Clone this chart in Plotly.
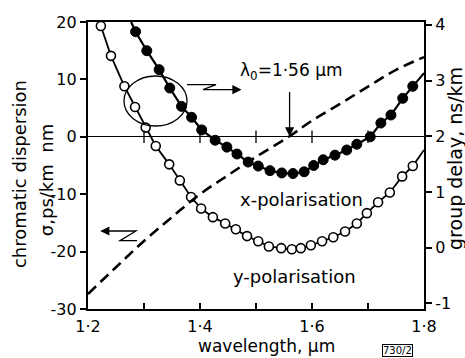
import plotly.graph_objects as go

# ---- data ----
# y-polarisation (open circles), chromatic dispersion ps/km nm
wl_ypol = [1.223, 1.241, 1.265, 1.284, 1.303, 1.321, 1.345, 1.364, 1.384, 1.402,
           1.423, 1.445, 1.464, 1.484, 1.504, 1.523, 1.545, 1.564, 1.580, 1.598,
           1.618, 1.638, 1.659, 1.680, 1.698, 1.718, 1.739, 1.761, 1.780]
sig_ypol = [19.3, 14.1, 8.8, 5.2, 1.6, -1.6, -4.8, -7.6, -10.5, -12.5,
            -14.0, -15.1, -16.1, -17.3, -18.2, -19.1, -19.4, -19.6, -19.4, -18.9,
            -18.2, -17.5, -16.5, -15.1, -13.3, -11.4, -9.7, -6.9, -5.1]
ypol_line_end = (1.80, -2.3)

# x-polarisation (filled circles)
wl_xpol = [1.285, 1.305, 1.327, 1.346, 1.367, 1.385, 1.403, 1.427, 1.448, 1.466,
           1.486, 1.504, 1.525, 1.546, 1.566, 1.586, 1.603, 1.620, 1.641, 1.662,
           1.680, 1.704, 1.723, 1.741, 1.762, 1.780]
sig_xpol = [18.3, 15.0, 11.7, 8.5, 5.3, 3.4, 1.2, -0.6, -1.8, -3.0,
            -4.4, -5.1, -5.9, -6.3, -6.4, -6.1, -5.0, -4.0, -3.2, -2.3,
            -1.3, 0.0, 2.4, 3.8, 6.7, 8.8]
xpol_line_start = (1.277, 20.0)
xpol_line_end = (1.80, 11.1)

# group delay (dashed, right axis), ns/km
wl_delay = [1.20, 1.25, 1.30, 1.35, 1.40, 1.45, 1.50, 1.56, 1.60, 1.65, 1.70, 1.75, 1.80]
delay = [-0.83, -0.35, 0.12, 0.55, 0.96, 1.30, 1.63, 2.00, 2.28, 2.58, 2.89, 3.19, 3.42]

lambda0 = 1.56
zero_ticks = [1.3, 1.4, 1.5, 1.6, 1.7]

x_tickvals = [1.2, 1.4, 1.6, 1.8]
x_ticktext = ["1·2", "1·4", "1·6", "1·8"]
x_minorvals = [1.3, 1.5, 1.7]
y_tickvals = [20, 10, 0, -10, -20, -30]
y_ticktext = ["20", "10", "0", "-10", "-20", "-30"]
y2_tickvals = [4, 3, 2, 1, 0, -1]
y2_ticktext = ["4", "3", "2", "1", "0", "-1"]

FONT = "DejaVu Sans"
BLACK = "black"

fig = go.Figure()

# lines
fig.add_trace(go.Scatter(
    x=wl_ypol + [ypol_line_end[0]], y=sig_ypol + [ypol_line_end[1]],
    mode="lines", line=dict(color=BLACK, width=1.8), showlegend=False,
    hoverinfo="skip", cliponaxis=False))
fig.add_trace(go.Scatter(
    x=[xpol_line_start[0]] + wl_xpol + [xpol_line_end[0]],
    y=[xpol_line_start[1]] + sig_xpol + [xpol_line_end[1]],
    mode="lines", line=dict(color=BLACK, width=2.2), showlegend=False,
    hoverinfo="skip", cliponaxis=False))
# markers
fig.add_trace(go.Scatter(
    x=wl_ypol, y=sig_ypol, mode="markers",
    marker=dict(symbol="circle", size=9, color="white",
                line=dict(color=BLACK, width=1.6)),
    showlegend=False, cliponaxis=False))
fig.add_trace(go.Scatter(
    x=wl_xpol, y=sig_xpol, mode="markers",
    marker=dict(symbol="circle", size=10, color=BLACK,
                line=dict(color=BLACK, width=1)),
    showlegend=False, cliponaxis=False))
# tick marks on the zero line
fig.add_trace(go.Scatter(
    x=zero_ticks, y=[0] * len(zero_ticks), mode="markers",
    marker=dict(symbol="line-ns", size=9, line=dict(color=BLACK, width=1.3)),
    showlegend=False, hoverinfo="skip"))
# group delay dashed
fig.add_trace(go.Scatter(
    x=wl_delay, y=delay, yaxis="y2", mode="lines",
    line=dict(color=BLACK, width=2.6, dash="11px,6px", shape="spline"),
    showlegend=False, hoverinfo="skip"))

LINE = dict(color=BLACK, width=1.3)
# ellipse around curves with zigzag pointers (decorations)
fig.add_shape(type="circle", xref="x", yref="y",
              x0=1.2643, x1=1.3768, y0=1.88, y1=10.59, line=LINE)
fig.add_shape(type="path", xref="x", yref="y",
              path="M 1.3768 9.08 L 1.4286 9.08 L 1.4054 8.21 L 1.4714 8.21", line=LINE)
fig.add_shape(type="path", xref="x", yref="y",
              path="M 1.4714 8.21 L 1.4589 8.82 L 1.4589 7.60 Z",
              line=LINE, fillcolor=BLACK)
fig.add_shape(type="path", xref="x", yref="y",
              path="M 1.2875 -18.10 L 1.2571 -18.10 L 1.2857 -16.41 L 1.2245 -16.41", line=LINE)
fig.add_shape(type="path", xref="x", yref="y",
              path="M 1.2245 -16.41 L 1.2370 -15.80 L 1.2370 -17.02 Z",
              line=LINE, fillcolor=BLACK)
# lambda0 arrow
fig.add_shape(type="line", xref="x", yref="y",
              x0=lambda0, x1=lambda0, y0=7.8, y1=0.6, line=LINE)
fig.add_shape(type="path", xref="x", yref="y",
              path="M 1.56 0.3 L 1.5537 1.55 L 1.5663 1.55 Z",
              line=LINE, fillcolor=BLACK)

TF = dict(family=FONT, size=18, color=BLACK)
C = dict(xanchor="center", yanchor="middle", showarrow=False)
annotations = [
    dict(x=1.5625, y=11.3, xref="x", yref="y", **C,
         text="λ<sub>0</sub>=1·56 µm", font=dict(family=FONT, size=17, color=BLACK)),
    dict(x=1.581, y=-10.9, xref="x", yref="y", **C, text="x-polarisation", font=TF),
    dict(x=1.568, y=-24.4, xref="x", yref="y", **C, text="y-polarisation", font=TF),
    # axis titles
    dict(x=0.53, y=-0.13, xref="paper", yref="paper", **C,
         text="wavelength, µm", font=dict(family=FONT, size=17, color=BLACK)),
    dict(x=-0.2054, y=0.47, xref="paper", yref="paper", **C, textangle=-90,
         text="chromatic dispersion", font=TF),
    dict(x=-0.125, y=0.449, xref="paper", yref="paper", **C, textangle=-90,
         text="σ,ps/km  nm", font=TF),
    dict(x=1.092, y=0.526, xref="paper", yref="paper", **C, textangle=-90,
         text="group delay, ns/km", font=dict(family=FONT, size=19, color=BLACK)),
    dict(x=0.9226, y=-0.145, xref="paper", yref="paper", **C,
         text="730/2", bordercolor=BLACK, borderwidth=1, borderpad=0,
         font=dict(family=FONT, size=10, color=BLACK)),
]

fig.update_layout(
    width=465, height=358,
    margin=dict(l=88, r=41, t=22, b=49),
    paper_bgcolor="white", plot_bgcolor="white",
    font=dict(family=FONT, size=16, color=BLACK),
    annotations=annotations,
    xaxis=dict(range=[1.2, 1.8], tickvals=x_tickvals, ticktext=x_ticktext,
               ticks="inside", ticklen=6, tickwidth=1.5, tickcolor=BLACK,
               minor=dict(tickvals=x_minorvals, ticks="inside", ticklen=6,
                          tickwidth=1.5, tickcolor=BLACK, showgrid=False),
               showline=True, linewidth=2.2, linecolor=BLACK, mirror=True,
               showgrid=False, zeroline=False, ticklabelstandoff=2,
               tickfont=dict(family=FONT, size=16)),
    yaxis=dict(range=[-30, 20], tickvals=y_tickvals, ticktext=y_ticktext,
               ticks="outside", ticklen=6, tickwidth=1.5, tickcolor=BLACK,
               showline=True, linewidth=2.2, linecolor=BLACK,
               showgrid=False, zeroline=True, zerolinewidth=1.2, zerolinecolor=BLACK,
               tickfont=dict(family=FONT, size=16)),
    yaxis2=dict(range=[-1.1, 4.05], tickvals=y2_tickvals, ticktext=y2_ticktext,
                overlaying="y", side="right",
                ticks="outside", ticklen=6, tickwidth=1.5, tickcolor=BLACK,
                showline=True, linewidth=2.2, linecolor=BLACK,
                showgrid=False, zeroline=False,
                tickfont=dict(family=FONT, size=16)),
)

fig.write_html("out.html", config={"displayModeBar": False},
               post_script="document.body.style.margin='0';document.body.style.overflow='hidden';")
